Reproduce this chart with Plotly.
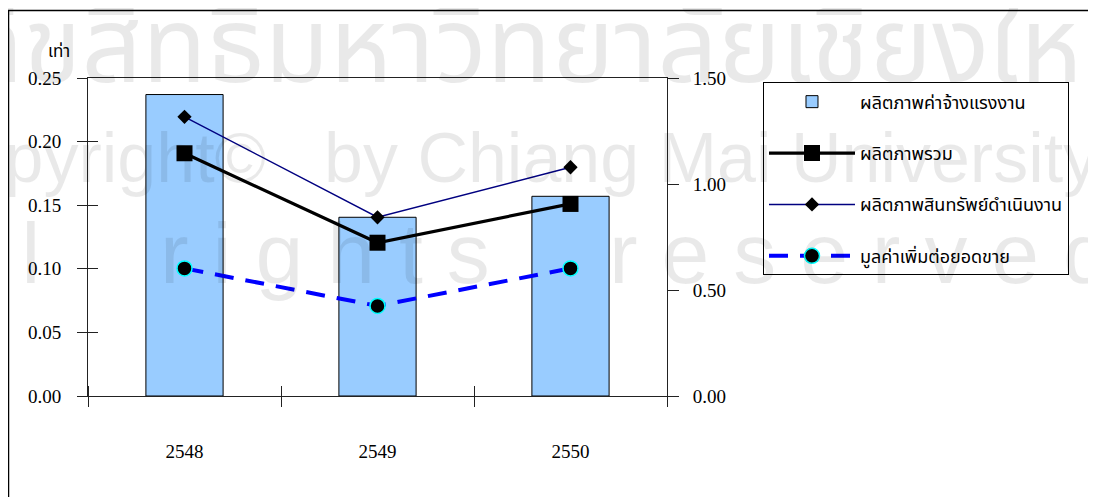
import plotly.graph_objects as go

years = ["2548", "2549", "2550"]
labor_productivity = [0.237, 0.1405, 0.157]          # left axis (bars)
total_productivity = [1.145, 0.723, 0.906]           # right axis
asset_productivity = [1.317, 0.843, 1.079]           # right axis
value_added_to_sales = [0.602, 0.425, 0.602]         # right axis

names = ["ผลิตภาพค่าจ้างแรงงาน", "ผลิตภาพรวม", "ผลิตภาพสินทรัพย์ดำเนินงาน", "มูลค่าเพิ่มต่อยอดขาย"]
left_ticks = [0.0, 0.05, 0.10, 0.15, 0.20, 0.25]
right_ticks = [0.0, 0.5, 1.0, 1.5]
unit_label = "เท่า"

xpos = list(range(len(years)))
bounds = [i - 0.5 for i in range(len(years) + 1)]

FONT = "Liberation Serif, Times New Roman, serif"
THAI = "Noto Sans Thai, Loma, Garuda, Tlwg Typo, Norasi, Noto Sans, DejaVu Sans, sans-serif"
WMFONT = "Liberation Sans, Arial, sans-serif"

fig = go.Figure()
fig.add_trace(go.Bar(x=xpos, y=labor_productivity, name=names[0], width=0.4,
                     marker=dict(color="#99ccff", line=dict(color="black", width=1)),
                     legendgroup="a", yaxis="y"))
fig.add_trace(go.Scatter(x=xpos, y=total_productivity, name=names[1], mode="lines+markers",
                         line=dict(color="black", width=3.2),
                         marker=dict(symbol="square", size=16, color="black"),
                         legendgroup="b", yaxis="y2"))
fig.add_trace(go.Scatter(x=xpos, y=asset_productivity, name=names[2], mode="lines+markers",
                         line=dict(color="#000080", width=1.5),
                         marker=dict(symbol="diamond", size=11, color="black"),
                         legendgroup="c", yaxis="y2"))
fig.add_trace(go.Scatter(x=xpos, y=value_added_to_sales, name=names[3], mode="lines+markers",
                         line=dict(color="#0000ff", width=4, dash="19px,12px"),
                         marker=dict(symbol="circle", size=15, color="black",
                                     line=dict(color="#00ffff", width=1.5)),
                         legendgroup="d", yaxis="y2"))
# helper trace to activate the overlay axes used for cross ticks
fig.add_trace(go.Scatter(x=[None], y=[None], xaxis="x2", yaxis="y3", showlegend=False,
                         hoverinfo="skip"))

axis_col = "#222222"
fig.update_layout(
    width=1096, height=497,
    margin=dict(l=80, r=437, t=70, b=109),
    paper_bgcolor="white", plot_bgcolor="white",
    font=dict(family=FONT, size=19, color="black"),
    showlegend=True,
    xaxis=dict(range=[-0.5, 2.5], tickmode="array", tickvals=xpos, ticktext=years,
               ticks="", ticklabelstandoff=38, showgrid=False, zeroline=False,
               showline=True, linecolor=axis_col, linewidth=1, mirror=True,
               minor=dict(tickvals=bounds, ticks="outside", ticklen=10,
                          tickcolor=axis_col, showgrid=False)),
    xaxis2=dict(range=[-0.5, 2.5], overlaying="x", showticklabels=False, showgrid=False,
                zeroline=False, tickmode="array", tickvals=[], ticks="",
                minor=dict(tickvals=bounds, ticks="inside", ticklen=10,
                           tickcolor=axis_col, showgrid=False)),
    yaxis=dict(range=[0, 0.25], tickmode="array", tickvals=left_ticks, tickformat=".2f",
               ticks="outside", ticklen=10, tickcolor=axis_col, ticklabelstandoff=12,
               showgrid=False, zeroline=False, showline=True, linecolor=axis_col, linewidth=1),
    yaxis3=dict(range=[0, 0.25], overlaying="y", side="left", tickmode="array",
                tickvals=left_ticks, ticks="inside", ticklen=10, tickcolor=axis_col,
                showticklabels=False, showgrid=False, zeroline=False),
    yaxis2=dict(range=[0, 1.5], overlaying="y", side="right", tickmode="array",
                tickvals=right_ticks, tickformat=".2f", ticks="outside", ticklen=11,
                tickcolor=axis_col, ticklabelstandoff=10, showgrid=False, zeroline=False,
                showline=True, linecolor=axis_col, linewidth=1),
    legend=dict(x=1.1658, y=0.9860, xanchor="left", yanchor="top",
                bordercolor="black", borderwidth=1, bgcolor="rgba(255,255,255,0)",
                font=dict(family=THAI, size=18), traceorder="grouped",
                tracegroupgap=25, itemwidth=86),
)

# outer frame
fig.add_shape(type="rect", xref="paper", yref="paper", x0=-0.1373, x1=1.75, y0=-0.4, y1=1.2123,
              line=dict(color="black", width=1.5), layer="below")

fig.add_annotation(text=unit_label, xref="paper", yref="paper", x=-0.050, y=1.082,
                   xanchor="center", yanchor="middle", showarrow=False,
                   font=dict(family=THAI, size=17))

# watermark
wm = "rgba(0,0,0,0.085)"
fig.add_annotation(text="ลิขสิทธิ์มหาวิทยาลัยเชียงใหม่", xref="paper", yref="paper",
                   x=0.807, y=1.345, xanchor="center", yanchor="top", showarrow=False,
                   font=dict(family=THAI, size=106, color=wm))
fig.add_annotation(text="Copyright©", xref="paper", yref="paper",
                   x=0.311, y=0.750, xanchor="right", yanchor="middle", showarrow=False,
                   font=dict(family=WMFONT, size=70, color=wm))
fig.add_annotation(text="by Chiang Mai University", xref="paper", yref="paper",
                   x=0.404, y=0.750, xanchor="left", yanchor="middle", showarrow=False,
                   font=dict(family=WMFONT, size=70, color=wm))
sp = "\u00a0"
for word, xp, anchor in [("All", -0.080, "right"), ("rights", 0.121, "left"),
                         ("reserved", 0.896, "left")]:
    fig.add_annotation(text=sp.join(word), xref="paper", yref="paper",
                       x=xp, y=0.450, xanchor=anchor, yanchor="middle", showarrow=False,
                       font=dict(family=WMFONT, size=86, color=wm))

fig.write_html("out.html")
